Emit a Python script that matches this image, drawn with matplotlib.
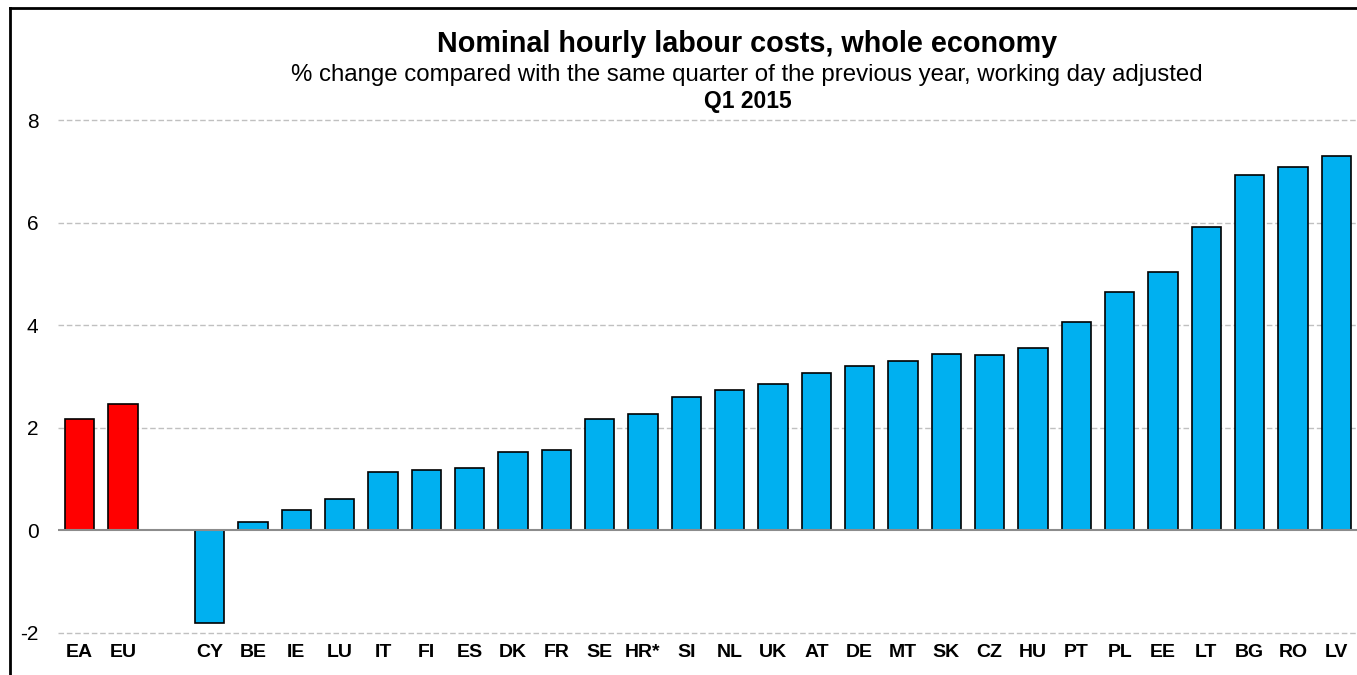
import numpy as np
import matplotlib
matplotlib.use("Agg")
from matplotlib import pyplot as plt
from matplotlib.lines import Line2D

plt.rcParams['font.family'] = ['Liberation Sans', 'DejaVu Sans']

# aggregates (red) and member states (blue), Q1 2015, % change y/y
agg_labels = ['EA', 'EU']
agg_values = [2.18, 2.46]

country_labels = ['CY', 'BE', 'IE', 'LU', 'IT', 'FI', 'ES', 'DK', 'FR', 'SE',
                  'HR*', 'SI', 'NL', 'UK', 'AT', 'DE', 'MT', 'SK', 'CZ', 'HU',
                  'PT', 'PL', 'EE', 'LT', 'BG', 'RO', 'LV']
country_values = [-1.81, 0.16, 0.40, 0.62, 1.13, 1.17, 1.22, 1.52, 1.56, 2.18,
                  2.27, 2.60, 2.74, 2.85, 3.07, 3.21, 3.30, 3.43, 3.41, 3.56,
                  4.06, 4.64, 5.03, 5.91, 6.92, 7.09, 7.30]

yticks = [-2, 0, 2, 4, 6, 8]

fig = plt.figure(figsize=(13.57, 6.75), dpi=100)
ax = fig.add_axes([58 / 1357, 1 - 633 / 675, 1300 / 1357, (633 - 120) / 675])

agg_x = np.arange(len(agg_labels))
country_x = np.arange(len(country_labels)) + len(agg_labels) + 1

ax.bar(agg_x, agg_values, width=0.67, color='#FF0000', edgecolor='black',
       linewidth=1.2, zorder=3)
ax.bar(country_x, country_values, width=0.67, color='#00B0F0', edgecolor='black',
       linewidth=1.2, zorder=3)

ax.set_xlim(-0.5, country_x[-1] + 0.5)
ax.set_ylim(-2, 8)

for y in yticks:
    if y == 0:
        ax.axhline(y, color='#8c8c8c', linewidth=1.5, zorder=4)
    else:
        ax.axhline(y, color='#c0c0c0', linewidth=1.0, linestyle=(0, (4, 2)),
                   zorder=1, clip_on=False)

ax.set_yticks(yticks)
ax.set_yticklabels([str(v) for v in yticks], fontsize=15)
ax.set_xticks(list(agg_x) + list(country_x))
ax.set_xticklabels(agg_labels + country_labels, fontsize=14, fontweight='bold')
ax.tick_params(axis='y', length=0, pad=14)
ax.tick_params(axis='x', length=0, pad=8)
for s in ax.spines.values():
    s.set_visible(False)

fig.text(747 / 1357, 1 - 52 / 675, 'Nominal hourly labour costs, whole economy',
         ha='center', va='baseline', fontsize=20.7, fontweight='bold')
fig.text(747 / 1357, 1 - 81.5 / 675,
         '% change compared with the same quarter of the previous year, working day adjusted',
         ha='center', va='baseline', fontsize=17.3)
fig.text(748 / 1357, 1 - 108.3 / 675, 'Q1 2015', ha='center', va='baseline',
         fontsize=16.5, fontweight='bold')

# outer frame (only left and top edges fall inside the picture)
fig.add_artist(Line2D([10 / 1357, 10 / 1357], [0, 1 - 8 / 675], color='black',
                      linewidth=2.0, transform=fig.transFigure))
fig.add_artist(Line2D([10 / 1357, 1], [1 - 8 / 675, 1 - 8 / 675], color='black',
                      linewidth=2.0, transform=fig.transFigure))

fig.savefig('out.png', dpi=100)
